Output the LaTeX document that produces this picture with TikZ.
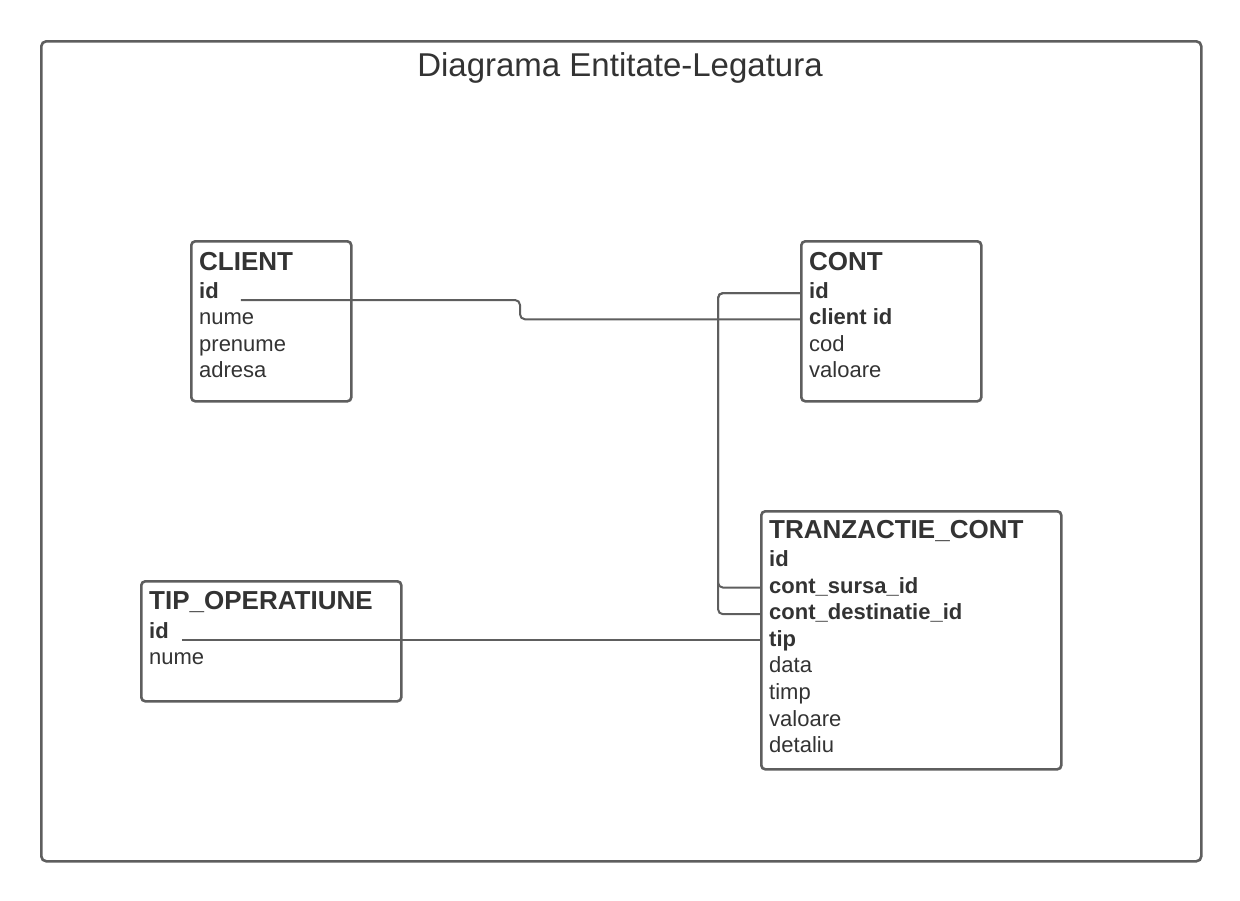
\documentclass[tikz,border=0pt]{standalone}
\usepackage{fontspec}
\setmainfont{Liberation Sans}
\usetikzlibrary{calc}
\definecolor{linegray}{HTML}{5E5E5E}
\definecolor{txtgray}{HTML}{333333}
\tikzset{
  entity/.style={draw=linegray, line width=2.6pt, rounded corners=4pt, anchor=north west, inner sep=0pt},
  hdr/.style={anchor=base west, inner sep=0pt, text=txtgray, font=\fontsize{26}{30}\selectfont\bfseries},
  fld/.style={anchor=base west, inner sep=0pt, text=txtgray, text height=15pt, text depth=4pt, font=\fontsize{22}{26}\selectfont},
  key/.style={fld, font=\fontsize{22}{26}\selectfont\bfseries},
  conn/.style={draw=linegray, line width=2pt, rounded corners=5pt},
}
\begin{document}
\begin{tikzpicture}[x=1pt,y=-1pt]
\useasboundingbox (0,0) rectangle (1240,900);
% frame
\node[draw=linegray, line width=2.6pt, rounded corners=5pt, minimum width=1160pt, minimum height=820pt, anchor=north west, inner sep=0pt] (frame) at (40,40) {};
\node[anchor=base, inner sep=0pt, text=txtgray, font=\fontsize{33}{37}\selectfont] (title) at (620,76.5) {Diagrama Entitate-Legatura};

% CLIENT
\node[entity, minimum width=160pt, minimum height=160pt] (client) at (190,240) {};
\node[hdr] (clienth) at (199,270) {CLIENT};
\node[key] (clientid) at (199,298.5) {id};
\node[fld] (clientnume) at (199,324.8) {nume};
\node[fld] (clientprenume) at (199,351.1) {prenume};
\node[fld] (clientadresa) at (199,377.4) {adresa};

% CONT
\node[entity, minimum width=180pt, minimum height=160pt] (cont) at (800,240) {};
\node[hdr] (conth) at (809,270) {CONT};
\node[key] (contid) at (809,298.5) {id};
\node[key] (contclientid) at (809,324.8) {client id};
\node[fld] (contcod) at (809,351.1) {cod};
\node[fld] (contvaloare) at (809,377.4) {valoare};

% TRANZACTIE_CONT
\node[entity, minimum width=300pt, minimum height=258pt] (tr) at (760,510) {};
\node[hdr] (trh) at (769,538.5) {TRANZACTIE\_CONT};
\node[key] (trid) at (769,566.5) {id};
\node[key] (trsursa) at (769,593.1) {cont\_sursa\_id};
\node[key] (trdest) at (769,619.7) {cont\_destinatie\_id};
\node[key] (trtip) at (769,646.3) {tip};
\node[fld] (trdata) at (769,672.9) {data};
\node[fld] (trtimp) at (769,699.5) {timp};
\node[fld] (trvaloare) at (769,726.1) {valoare};
\node[fld] (trdetaliu) at (769,752.7) {detaliu};

% TIP_OPERATIUNE
\node[entity, minimum width=260pt, minimum height=120pt] (tipop) at (140,580) {};
\node[hdr] (tiph) at (149,609.5) {TIP\_OPERATIUNE};
\node[key] (tipid) at (149,638) {id};
\node[fld] (tipnume) at (149,664.3) {nume};

% connectors
\coordinate (clientstart) at ($(clientid.base east)+(22,1.5)$);
\draw[conn] (clientstart) -| ($(cont.west |- contclientid.west)+(-280,0)$) -- (cont.west |- contclientid.west);

\draw[conn] (cont.west |- contid.west) -- ++(-82,0) |- (tr.west |- trsursa.west);
\draw[conn] (cont.west |- contid.west) -- ++(-82,0) |- (tr.west |- trdest.west);

\coordinate (tipstart) at ($(tipid.base east)+(13,2)$);
\draw[conn] (tipstart) -- (tr.west |- tipstart);
\end{tikzpicture}
\end{document}
